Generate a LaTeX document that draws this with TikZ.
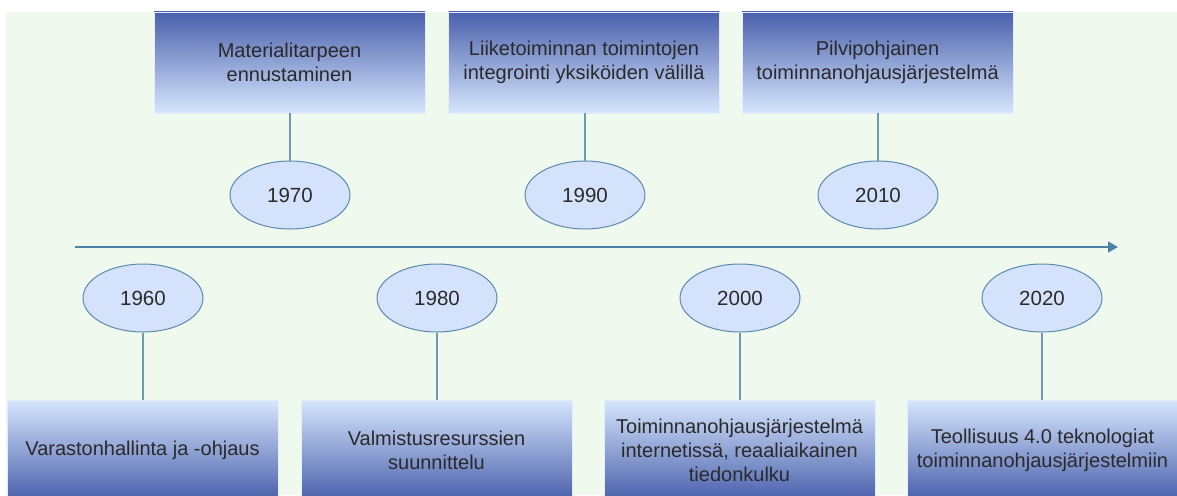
\documentclass[tikz,border=0pt]{standalone}
\usepackage{fontspec}
\setmainfont{Liberation Sans}
\usetikzlibrary{shapes.geometric,arrows.meta}
\definecolor{bggreen}{HTML}{F0F9EE}
\definecolor{boxdark}{HTML}{4A60AC}
\definecolor{boxlight}{HTML}{D6E6FD}
\definecolor{ellfill}{HTML}{D4E3FB}
\definecolor{ellline}{HTML}{5A8AAE}
\definecolor{conline}{HTML}{6A9BB3}
\definecolor{arrowc}{HTML}{4C82A6}
\definecolor{txt}{HTML}{2A2A2A}
\tikzset{
  x=1pt,y=-1pt,
  topbox/.style={rectangle, minimum width=271pt, minimum height=101pt, top color=boxdark, bottom color=boxlight, draw=boxlight!70!white, line width=0.6pt, align=center, text=txt, font=\fontsize{20}{23.5}\selectfont, inner sep=0pt},
  botbox/.style={rectangle, minimum width=271pt, minimum height=100pt, top color=boxlight, bottom color=boxdark, draw=boxlight!70!white, line width=0.6pt, align=center, text=txt, font=\fontsize{20}{24}\selectfont, inner sep=0pt},
  year/.style={ellipse, minimum width=120pt, minimum height=68pt, fill=ellfill, draw=ellline, line width=1pt, text=txt, font=\fontsize{20.5}{24}\selectfont, inner sep=0pt},
  conn/.style={draw=conline, line width=1.6pt},
}
\begin{document}
\begin{tikzpicture}
\useasboundingbox (0,0) rectangle (1177,495);
\fill[white] (0,0) rectangle (1177,495);
\fill[bggreen] (6,12) rectangle (1177,495);
\begin{scope}
\clip (0,0) rectangle (1177,495);
% top boxes
\node[topbox] (b1970) at (289.5,62.5) {Materialitarpeen\\ennustaminen};
\node[topbox] (b1990) at (584,62.5) {Liiketoiminnan toimintojen\\integrointi yksiköiden välillä};
\node[topbox] (b2010) at (877.5,62.5) {Pilvipohjainen\\toiminnanohjausjärjestelmä};
% bottom boxes
\node[botbox] (b1960) at (142.5,450) {Varastonhallinta ja -ohjaus};
\node[botbox] (b1980) at (436.5,450) {Valmistusresurssien\\suunnittelu};
\node[botbox] (b2000) at (739.5,450) {Toiminnanohjausjärjestelmä\\internetissä, reaaliaikainen\\tiedonkulku};
\node[botbox] (b2020) at (1042.5,450) {Teollisuus 4.0 teknologiat\\toiminnanohjausjärjestelmiin};
\end{scope}
% timeline
\coordinate (tl0) at (75,247);
\coordinate (tl1) at (1118,247);
\draw[arrowc, line width=1.8pt, -{Triangle[length=10pt,width=11pt]}] (tl0) -- (tl1);
% years
\node[year] (y1970) at (290,195) {1970};
\node[year] (y1990) at (585,195) {1990};
\node[year] (y2010) at (878,195) {2010};
\node[year] (y1960) at (143,298) {1960};
\node[year] (y1980) at (437,298) {1980};
\node[year] (y2000) at (740,298) {2000};
\node[year] (y2020) at (1042,298) {2020};
% connectors
\draw[conn] (b1970.south -| y1970) -- (y1970.north);
\draw[conn] (b1990.south -| y1990) -- (y1990.north);
\draw[conn] (b2010.south -| y2010) -- (y2010.north);
\draw[conn] (y1960.south) -- (y1960.south |- b1960.north);
\draw[conn] (y1980.south) -- (y1980.south |- b1980.north);
\draw[conn] (y2000.south) -- (y2000.south |- b2000.north);
\draw[conn] (y2020.south) -- (y2020.south |- b2020.north);
\end{tikzpicture}
\end{document}
